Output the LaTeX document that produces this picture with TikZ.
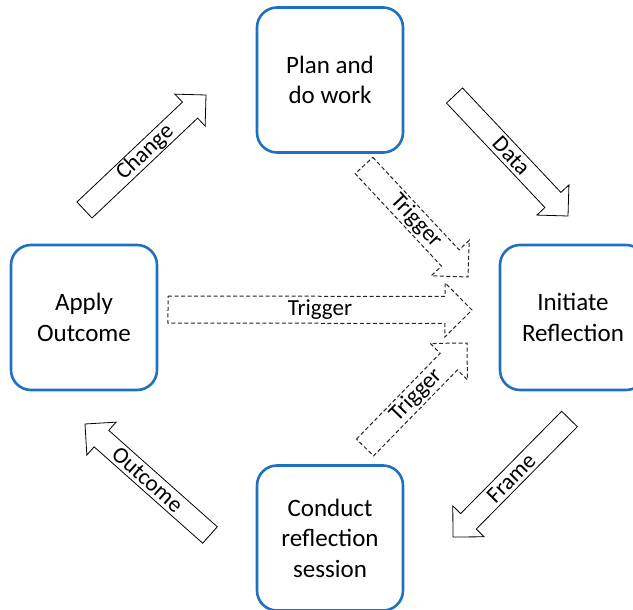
\documentclass[tikz,border=0pt]{standalone}
\usepackage{fontspec}
\setmainfont{Carlito}
\usetikzlibrary{calc}

\definecolor{boxblue}{RGB}{30,112,192}

\tikzset{
  stagebox/.style={draw=boxblue, line width=2.6pt, rounded corners=20pt, fill=white,
    minimum width=146pt, minimum height=145pt, align=center, inner sep=0pt,
    font=\fontsize{25}{30.5}\selectfont},
  solidarrow/.style={draw=black, line width=0.8pt, fill=white, line join=miter},
  dasharrow/.style={draw=black!85, line width=1pt, dash pattern=on 4pt off 2.5pt, fill=white, line join=miter},
  arrowlabel/.style={inner sep=0pt, font=\fontsize{23}{27}\selectfont}
}

% block arrow: style, name, tail point, tip point, shaft half-width, head half-width, label
\newcommand\blockarrow[7]{%
  \coordinate (#2-t) at #3;
  \coordinate (#2-p) at #4;
  \coordinate (#2-b) at ($(#2-p)!#6!(#2-t)$);
  \draw[#1] ($(#2-t)!#5!90:(#2-p)$) -- ($(#2-b)!#5!-90:(#2-t)$) -- ($(#2-b)!#6!-90:(#2-t)$)
    -- (#2-p) -- ($(#2-b)!#6!90:(#2-t)$) -- ($(#2-b)!#5!90:(#2-t)$)
    -- ($(#2-t)!#5!-90:(#2-p)$) -- cycle;
  \path (#2-t) -- (#2-p) node[midway, sloped, arrowlabel] (#2) {#7};
}

\begin{document}
\begin{tikzpicture}[x=1pt, y=-1pt]
  \useasboundingbox (0,0) rectangle (633,610);
  \clip (0,0) rectangle (633,610);

  % stages of the cycle
  \node[stagebox] (plan)    at (330,80)    {Plan and\\do work};
  \node[stagebox] (apply)   at (84,317.5)  {Apply\\Outcome};
  \node[stagebox] (init)    at (573,317.5) {Initiate\\Reflection};
  \node[stagebox] (conduct) at (330,538)   {Conduct\\reflection\\session};

  % main cycle arrows
  \blockarrow{solidarrow}{change}{(84.5,210)}{(206,95)}{11pt}{22pt}{Change}
  \blockarrow{solidarrow}{data}{(454.5,95.5)}{(568,216)}{11pt}{22pt}{Data}
  \blockarrow{solidarrow}{frame}{(569.5,419)}{(453,537)}{11pt}{22pt}{Frame}
  \blockarrow{solidarrow}{outcome}{(210,535)}{(85,424)}{11pt}{22pt}{Outcome}

  % triggers into reflection
  \blockarrow{dasharrow}{trigtop}{(364,165.5)}{(468,277)}{12pt}{26pt}{Trigger}
  \blockarrow{dasharrow}{trigmid}{(168,309.5)}{(472,310)}{13.5pt}{27pt}{Trigger}
  \blockarrow{dasharrow}{trigbot}{(365,447.5)}{(467,343)}{12pt}{26pt}{Trigger}
\end{tikzpicture}
\end{document}
